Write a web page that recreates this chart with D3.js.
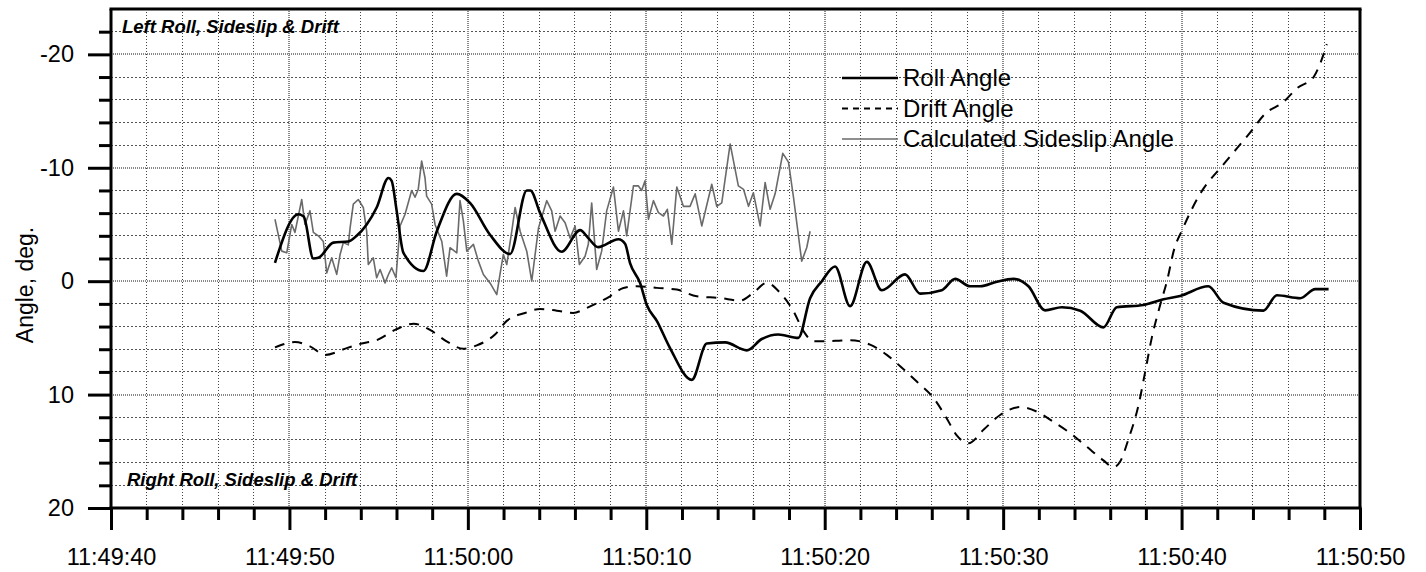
<!DOCTYPE html>
<html>
<head>
<meta charset="utf-8">
<script src="https://cdn.jsdelivr.net/npm/d3@7"></script>
<style>
  html, body { margin: 0; padding: 0; background: #fff; }
  svg { display: block; font-family: "Liberation Sans", Arial, sans-serif; }
</style>
</head>
<body>
<svg id="chart" width="1426" height="572"></svg>
<script>
// ---- Data (time in seconds after 11:49:40, angle in degrees) ----
const xTickValues = [0, 10, 20, 30, 40, 50, 60, 70];
const xTickLabels = ["11:49:40", "11:49:50", "11:50:00", "11:50:10", "11:50:20", "11:50:30", "11:50:40", "11:50:50"];
const yTickValues = [-20, -10, 0, 10, 20];
const yTickLabels = ["-20", "-10", "0", "10", "20"];
const seriesNames = ["Roll Angle", "Drift Angle", "Calculated Sideslip Angle"];

const rollAngle = [
  [9.19,-1.62],[10.5,-5.9],[10.8,-5.7],[11.34,-2.0],[11.62,-2.06],[12.46,-3.4],[13.3,-3.5],[13.77,-4.0],
  [14.33,-5.0],[14.89,-6.5],[15.55,-9.1],[15.73,-8.85],[16.01,-6.2],[16.39,-2.5],[17.51,-0.9],[18.26,-4.4],
  [19.38,-7.7],[20.12,-6.9],[21.24,-4.1],[22.37,-2.4],[23.3,-8.0],[23.5,-8.0],[24.05,-6.0],[25.26,-2.6],
  [26.29,-4.5],[26.75,-3.8],[27.3,-3.0],[28.44,-3.7],[28.81,-3.3],[29.09,-1.6],[29.65,0.15],[30.03,2.1],
  [30.59,3.5],[31.33,5.9],[32.55,8.7],[33.39,5.5],[34.42,5.4],[35.63,6.1],[36.47,5.1],[37.4,4.7],
  [38.52,5.0],[39.18,1.5],[39.84,0],[40.58,-1.3],[41.42,2.2],[42.36,-1.7],[43.2,0.8],[44.5,-0.6],
  [45.35,1.1],[46.56,0.8],[47.31,-0.2],[48.15,0.45],[48.71,0.45],[49.65,0.05],[50.58,-0.2],[51.42,0.45],
  [52.35,2.57],[53.29,2.3],[54.32,2.6],[55.62,4.07],[56.37,2.3],[57.87,2.1],[58.99,1.6],[59.92,1.3],
  [61.5,0.45],[62.35,1.9],[64.59,2.6],[65.34,1.24],[66.65,1.5],[67.49,0.7],[68.24,0.7]
];

const driftAngle = [
  [9.19,5.84],[10.31,5.37],[11.15,5.75],[12.0,6.5],[13.21,5.9],[14.05,5.5],[14.89,5.2],[15.92,4.3],
  [16.96,3.75],[17.88,4.3],[18.81,5.3],[19.75,5.96],[20.5,5.66],[21.52,4.7],[22.18,3.5],[23.2,2.8],
  [24.05,2.45],[24.98,2.6],[25.9,2.8],[26.66,2.36],[27.97,1.33],[28.72,0.6],[29.47,0.44],[30.59,0.59],
  [31.71,0.74],[32.83,1.33],[34.14,1.48],[35.26,1.71],[36.0,1.03],[36.75,0.15],[37.5,1.03],[38.25,2.65],
  [38.81,4.4],[39.37,5.3],[40.68,5.25],[41.42,5.2],[42.54,5.6],[43.48,6.5],[44.23,7.5],[45.16,8.85],
  [46.1,10.3],[46.84,12.1],[47.4,13.6],[48.06,14.3],[48.9,13.1],[49.83,11.8],[50.95,11.1],[51.88,11.5],
  [52.82,12.4],[53.76,13.4],[54.69,14.6],[55.62,15.8],[56.18,16.4],[56.56,15.9],[57.03,13.9],[57.59,10.9],
  [57.96,8.0],[58.33,5.0],[58.8,2.1],[59.18,0],[59.6,-2.9],[60.0,-4.4],[61.04,-7.7],[62.35,-10.3],
  [63.84,-13.1],[64.68,-14.75],[65.71,-15.8],[66.46,-17.0],[67.4,-18.0],[67.77,-19.2],[68.14,-20.9]
];

const sideslipAngle = [
  [9.19,-5.46],[9.57,-2.65],[9.85,-2.5],[10.13,-5.0],[10.31,-4.3],[10.5,-5.75],[10.69,-7.2],[10.87,-5.0],
  [11.15,-6.2],[11.34,-4.3],[11.62,-4.0],[11.9,-3.5],[12.09,-0.73],[12.37,-2.06],[12.65,-0.6],[12.84,-2.36],
  [13.02,-3.4],[13.3,-3.2],[13.4,-4.7],[13.58,-6.8],[13.86,-7.2],[14.14,-6.5],[14.33,-4.4],[14.42,-1.47],
  [14.7,-2.06],[14.89,-0.3],[15.08,-1.03],[15.36,0.15],[15.55,-0.59],[15.73,-1.18],[15.97,-0.3],[16.2,-4.87],
  [16.48,-5.9],[16.85,-8.0],[17.04,-7.4],[17.22,-8.1],[17.41,-10.6],[17.6,-9.1],[17.69,-7.5],[17.97,-6.8],
  [18.16,-5.0],[18.54,-3.5],[18.81,-0.44],[19.0,-2.95],[19.38,-2.5],[19.56,-7.1],[19.75,-5.3],[19.94,-2.65],
  [20.31,-3.25],[20.59,-1.77],[20.87,-0.59],[21.24,0.15],[21.62,1.18],[21.8,-0.59],[21.99,-2.36],[22.18,-1.47],
  [22.46,-4.4],[22.65,-6.5],[22.93,-4.4],[23.3,-2.65],[23.58,0],[23.77,-2.36],[23.96,-4.7],[24.42,-7.1],
  [24.7,-6.2],[24.89,-4.4],[25.17,-5.75],[25.45,-5.16],[25.73,-3.8],[26.01,-4.87],[26.25,-1.47],[26.57,-2.2],
  [26.75,-3.25],[26.94,-6.9],[27.22,-1.03],[27.5,-2.65],[27.78,-6.2],[28.16,-8.3],[28.44,-4.4],[28.72,-6.2],
  [28.9,-4.0],[29.28,-8.4],[29.56,-8.4],[29.74,-8.0],[29.93,-8.85],[30.12,-5.46],[30.4,-7.1],[30.68,-6.05],
  [30.96,-5.75],[31.18,-6.34],[31.43,-3.25],[31.71,-8.3],[32.08,-6.6],[32.45,-6.6],[32.74,-7.7],[33.11,-4.87],
  [33.67,-8.55],[33.95,-6.6],[34.23,-6.9],[34.7,-12.1],[35.16,-8.4],[35.45,-8.1],[35.73,-6.6],[36.0,-7.8],
  [36.38,-4.87],[36.66,-8.7],[36.94,-6.34],[37.22,-7.7],[37.65,-11.27],[37.97,-10.5],[38.25,-7.4],[38.71,-1.77],
  [38.99,-2.95],[39.18,-4.4]
];

// ---- Layout ----
const svg = d3.select("#chart");
const plotLeft = 111, plotRight = 1360, plotTop = 9, plotBottom = 508;

const x = d3.scaleLinear().domain([0, 70]).range([plotLeft, plotRight]);
const y = d3.scaleLinear().domain([-24, 20]).range([plotTop, plotBottom]);

// ---- Grid ----
const grid = svg.append("g").attr("shape-rendering", "crispEdges");
const vMinor = d3.range(2, 70, 2).filter(v => v % 10 !== 0);
const vMajor = d3.range(10, 70, 10);
const hMinor = d3.range(-22, 20, 2).filter(v => v % 10 !== 0);
const hMajor = [-20, -10, 0, 10];

grid.selectAll(".vmin").data(vMinor).join("line")
  .attr("x1", d => x(d)).attr("x2", d => x(d)).attr("y1", plotTop).attr("y2", plotBottom)
  .attr("stroke", "#444").attr("stroke-width", 1).attr("stroke-dasharray", "1,2");
grid.selectAll(".hmin").data(hMinor).join("line")
  .attr("x1", plotLeft).attr("x2", plotRight).attr("y1", d => y(d)).attr("y2", d => y(d))
  .attr("stroke", "#555").attr("stroke-width", 1).attr("stroke-dasharray", "2,2");
grid.selectAll(".vmaj").data(vMajor).join("line")
  .attr("x1", d => x(d)).attr("x2", d => x(d)).attr("y1", plotTop).attr("y2", plotBottom)
  .attr("stroke", "#888").attr("stroke-width", 2).attr("stroke-dasharray", "1,1");
grid.selectAll(".hmaj").data(hMajor).join("line")
  .attr("x1", plotLeft).attr("x2", plotRight).attr("y1", d => y(d)).attr("y2", d => y(d))
  .attr("stroke", "#888").attr("stroke-width", 2).attr("stroke-dasharray", "1,1");

// ---- Series ----
const lineSmooth = d3.line().x(d => x(d[0])).y(d => y(d[1])).curve(d3.curveMonotoneX);
const lineRaw = d3.line().x(d => x(d[0])).y(d => y(d[1]));

svg.append("path").datum(sideslipAngle).attr("d", lineRaw)
  .attr("fill", "none").attr("stroke", "#6a6a6a").attr("stroke-width", 1.6).attr("stroke-linejoin", "round");
svg.append("path").datum(driftAngle).attr("d", lineSmooth)
  .attr("fill", "none").attr("stroke", "#000").attr("stroke-width", 2).attr("stroke-dasharray", "10,8");
svg.append("path").datum(rollAngle).attr("d", lineSmooth)
  .attr("fill", "none").attr("stroke", "#000").attr("stroke-width", 2.6).attr("stroke-linejoin", "round");

// ---- Axes ----
const yAxisMajor = d3.axisLeft(y).tickValues(yTickValues).tickSize(23)
  .tickFormat((d, i) => yTickLabels[i]).tickPadding(14);
const yAxisMinor = d3.axisLeft(y).tickValues(d3.range(-22, 20, 2).filter(v => v % 10 !== 0)).tickSize(12).tickFormat("");
const xAxisMajor = d3.axisBottom(x).tickValues(xTickValues).tickSize(22)
  .tickFormat((d, i) => xTickLabels[i]).tickPadding(18);
const xAxisMinor = d3.axisBottom(x).tickValues(d3.range(2, 70, 2).filter(v => v % 10 !== 0)).tickSize(12).tickFormat("");

function styleAxis(g) {
  g.select(".domain").remove();
  g.selectAll(".tick line").attr("stroke", "#000").attr("stroke-width", 3);
  g.selectAll(".tick text").attr("fill", "#000").attr("font-size", "23.5px")
    .attr("font-family", "'Liberation Sans', Arial, sans-serif");
}
svg.append("g").attr("transform", `translate(${plotLeft},0)`).call(yAxisMinor).call(styleAxis);
svg.append("g").attr("transform", `translate(${plotLeft},0)`).call(yAxisMajor).call(styleAxis);
svg.append("g").attr("transform", `translate(0,${plotBottom})`).call(xAxisMinor).call(styleAxis);
svg.append("g").attr("transform", `translate(0,${plotBottom})`).call(xAxisMajor).call(styleAxis);

// frame
const frame = svg.append("g");
frame.append("line").attr("x1", plotLeft - 1.5).attr("x2", plotRight + 1.5).attr("y1", plotTop).attr("y2", plotTop).attr("stroke", "#000").attr("stroke-width", 3);
frame.append("line").attr("x1", plotLeft - 1.5).attr("x2", plotRight + 1.5).attr("y1", plotBottom).attr("y2", plotBottom).attr("stroke", "#000").attr("stroke-width", 3);
frame.append("line").attr("x1", plotLeft).attr("x2", plotLeft).attr("y1", plotTop).attr("y2", plotBottom).attr("stroke", "#000").attr("stroke-width", 3);
frame.append("line").attr("x1", plotRight).attr("x2", plotRight).attr("y1", plotTop).attr("y2", plotBottom).attr("stroke", "#000").attr("stroke-width", 3);

// y label
svg.append("text").attr("transform", "translate(33,285) rotate(-90)")
  .attr("text-anchor", "middle").attr("font-size", "23px").attr("fill", "#000").text("Angle, deg.");

// annotations
svg.append("text").attr("x", 122).attr("y", 33).attr("font-size", "18.5px")
  .attr("font-weight", "bold").attr("font-style", "italic").attr("fill", "#000").text("Left Roll, Sideslip & Drift");
svg.append("text").attr("x", 127).attr("y", 486).attr("font-size", "18.5px")
  .attr("font-weight", "bold").attr("font-style", "italic").attr("fill", "#000").text("Right Roll, Sideslip & Drift");

// ---- Legend ----
const legendStyles = [
  { stroke: "#000", width: 2.6, dash: null },
  { stroke: "#000", width: 2, dash: "6,5" },
  { stroke: "#6a6a6a", width: 1.6, dash: null }
];
const legend = svg.append("g");
seriesNames.forEach((name, i) => {
  const yy = 78 + i * 30.5;
  const st = legendStyles[i];
  const l = legend.append("line").attr("x1", 842).attr("x2", 898).attr("y1", yy).attr("y2", yy)
    .attr("stroke", st.stroke).attr("stroke-width", st.width);
  if (st.dash) l.attr("stroke-dasharray", st.dash);
  legend.append("text").attr("x", 903).attr("y", yy).attr("dy", "0.35em")
    .attr("font-size", "24px").attr("fill", "#000").text(name);
});
</script>
</body>
</html>
